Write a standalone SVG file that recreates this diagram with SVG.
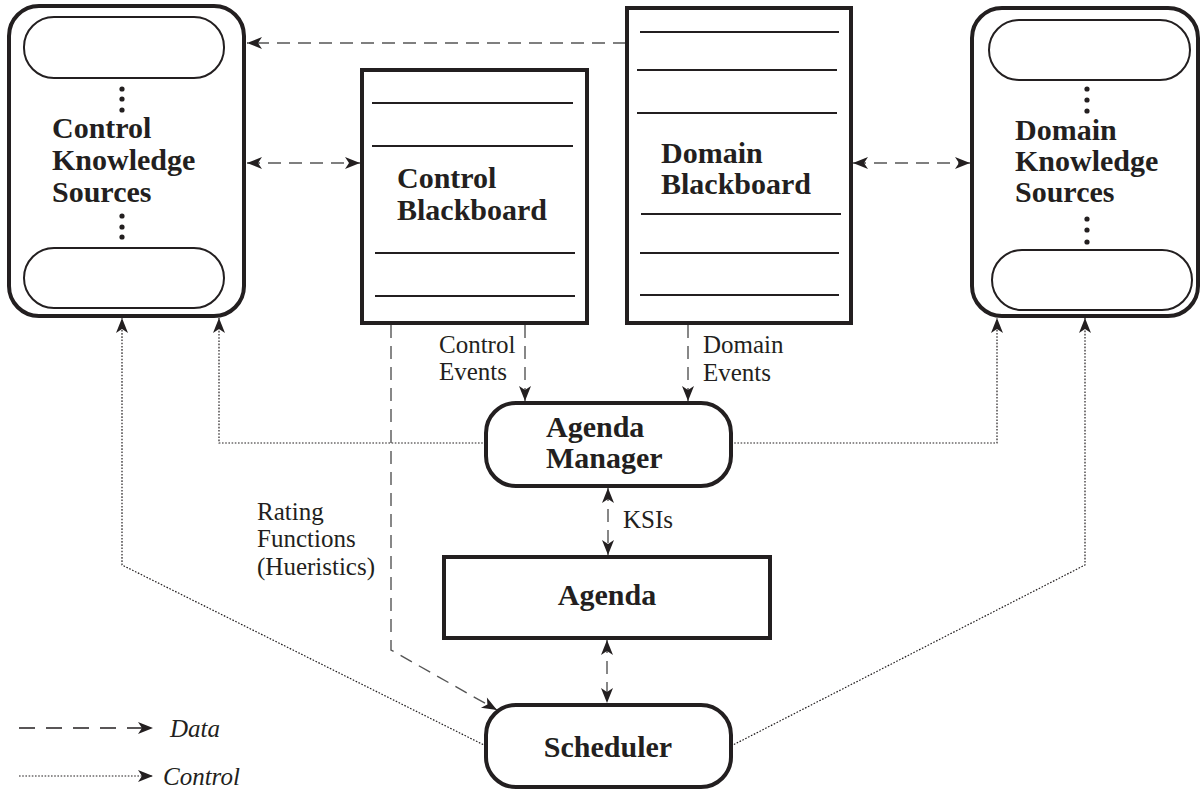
<svg xmlns="http://www.w3.org/2000/svg" width="1203" height="791" viewBox="0 0 1203 791">
  <style>
    .box { fill: #fff; stroke: #231f20; stroke-width: 4; }
    .pill { fill: #fff; stroke: #231f20; stroke-width: 2; }
    .rule { stroke: #231f20; stroke-width: 2; }
    .dot { fill: #231f20; }
    .title { font-family: "Liberation Serif", "Times New Roman", serif; font-weight: bold; font-size: 30px; fill: #231f20; }
    .label { font-family: "Liberation Serif", "Times New Roman", serif; font-size: 25px; fill: #231f20; }
    .legend { font-family: "Liberation Serif", "Times New Roman", serif; font-style: italic; font-size: 25px; fill: #231f20; }
    .data { fill: none; stroke: #555; stroke-width: 1.4; stroke-dasharray: 13 8; }
    .ctrl { fill: none; stroke: #231f20; stroke-width: 1.2; stroke-dasharray: 1.6 1.6; }
  </style>
  <defs>
    <marker id="head" markerUnits="userSpaceOnUse" markerWidth="18" markerHeight="14" refX="16" refY="7" orient="auto-start-reverse">
      <path d="M1,1 L16,7 L1,13 L5,7 Z" fill="#231f20"/>
    </marker>
  </defs>

  <rect width="1203" height="791" fill="#fff"/>

  <!-- connectors -->
  <g id="connectors">
    <!-- data flows -->
    <path class="data" d="M626,43 H247" marker-end="url(#head)"/>
    <path class="data" d="M247,163 H360" marker-start="url(#head)" marker-end="url(#head)"/>
    <path class="data" d="M853,163 H970" marker-start="url(#head)" marker-end="url(#head)"/>
    <path class="data" d="M525,325 V401" marker-end="url(#head)"/>
    <path class="data" d="M688,325 V401" marker-end="url(#head)"/>
    <path class="data" d="M608,488 V555" marker-start="url(#head)" marker-end="url(#head)"/>
    <path class="data" d="M607,640 V703" marker-start="url(#head)" marker-end="url(#head)"/>
    <path class="data" d="M391,325 V650 L497,710" stroke-dasharray="15 8" marker-end="url(#head)"/>
    <!-- control flows -->
    <path class="ctrl" d="M486,443 H219 V318" marker-end="url(#head)"/>
    <path class="ctrl" d="M731,443 H997 V318" marker-end="url(#head)"/>
    <path class="ctrl" d="M486,746 L122,565 V318" marker-end="url(#head)"/>
    <path class="ctrl" d="M731,746 L1085,565 V318" marker-end="url(#head)"/>
  </g>

  <!-- control knowledge sources -->
  <g id="control-ks">
    <rect class="box" x="9" y="6" width="235" height="310" rx="30"/>
    <rect class="pill" x="24" y="17" width="200" height="61" rx="30"/>
    <rect class="pill" x="24" y="248" width="200" height="60" rx="30"/>
    <circle class="dot" cx="122" cy="89" r="2.6"/>
    <circle class="dot" cx="122" cy="99" r="2.6"/>
    <circle class="dot" cx="122" cy="110" r="2.6"/>
    <circle class="dot" cx="122" cy="216" r="2.6"/>
    <circle class="dot" cx="122" cy="227" r="2.6"/>
    <circle class="dot" cx="122" cy="237" r="2.6"/>
    <text class="title" x="52" y="138">Control</text>
    <text class="title" x="52" y="170">Knowledge</text>
    <text class="title" x="52" y="202">Sources</text>
  </g>

  <!-- control blackboard -->
  <g id="control-blackboard">
    <rect class="box" x="362" y="70" width="225" height="253"/>
    <line class="rule" x1="372" y1="103" x2="573" y2="103"/>
    <line class="rule" x1="372" y1="146" x2="573" y2="146"/>
    <line class="rule" x1="375" y1="253" x2="575" y2="253"/>
    <line class="rule" x1="375" y1="296" x2="575" y2="296"/>
    <text class="title" x="397" y="188">Control</text>
    <text class="title" x="397" y="220">Blackboard</text>
  </g>

  <!-- domain blackboard -->
  <g id="domain-blackboard">
    <rect class="box" x="627" y="8" width="224" height="315"/>
    <line class="rule" x1="640" y1="32" x2="839" y2="32"/>
    <line class="rule" x1="637" y1="70" x2="837" y2="70"/>
    <line class="rule" x1="637" y1="113" x2="837" y2="113"/>
    <line class="rule" x1="641" y1="214" x2="841" y2="214"/>
    <line class="rule" x1="640" y1="253" x2="839" y2="253"/>
    <line class="rule" x1="640" y1="295" x2="839" y2="295"/>
    <text class="title" x="661" y="163">Domain</text>
    <text class="title" x="661" y="194">Blackboard</text>
  </g>

  <!-- domain knowledge sources -->
  <g id="domain-ks">
    <rect class="box" x="972" y="8" width="226" height="308" rx="30"/>
    <rect class="pill" x="989" y="20" width="201" height="60" rx="30"/>
    <rect class="pill" x="992" y="250" width="200" height="60" rx="30"/>
    <circle class="dot" cx="1087" cy="89" r="2.6"/>
    <circle class="dot" cx="1087" cy="100" r="2.6"/>
    <circle class="dot" cx="1087" cy="111" r="2.6"/>
    <circle class="dot" cx="1087" cy="219" r="2.6"/>
    <circle class="dot" cx="1087" cy="230" r="2.6"/>
    <circle class="dot" cx="1087" cy="242" r="2.6"/>
    <text class="title" x="1015" y="140">Domain</text>
    <text class="title" x="1015" y="171">Knowledge</text>
    <text class="title" x="1015" y="202">Sources</text>
  </g>

  <!-- agenda manager -->
  <g id="agenda-manager">
    <rect class="box" x="486" y="403" width="245" height="83" rx="30"/>
    <text class="title" x="546" y="437">Agenda</text>
    <text class="title" x="546" y="468">Manager</text>
  </g>

  <!-- agenda -->
  <g id="agenda">
    <rect class="box" x="444" y="557" width="326" height="81"/>
    <text class="title" x="607" y="605" text-anchor="middle">Agenda</text>
  </g>

  <!-- scheduler -->
  <g id="scheduler">
    <rect class="box" x="486" y="705" width="245" height="82" rx="30"/>
    <text class="title" x="608" y="757" text-anchor="middle">Scheduler</text>
  </g>

  <!-- connector labels -->
  <g id="labels">
    <text class="label" x="439" y="353">Control</text>
    <text class="label" x="439" y="380">Events</text>
    <text class="label" x="703" y="353">Domain</text>
    <text class="label" x="703" y="381">Events</text>
    <text class="label" x="623" y="528">KSIs</text>
    <text class="label" x="257" y="520">Rating</text>
    <text class="label" x="257" y="547">Functions</text>
    <text class="label" x="257" y="575">(Hueristics)</text>
  </g>

  <!-- legend -->
  <g id="legend">
    <path d="M19,728 H153" fill="none" stroke="#231f20" stroke-width="1.4" stroke-dasharray="16 11" marker-end="url(#head)"/>
    <text class="legend" x="170" y="737">Data</text>
    <path class="ctrl" d="M19,776 H153" marker-end="url(#head)"/>
    <text class="legend" x="163" y="785">Control</text>
  </g>
</svg>
